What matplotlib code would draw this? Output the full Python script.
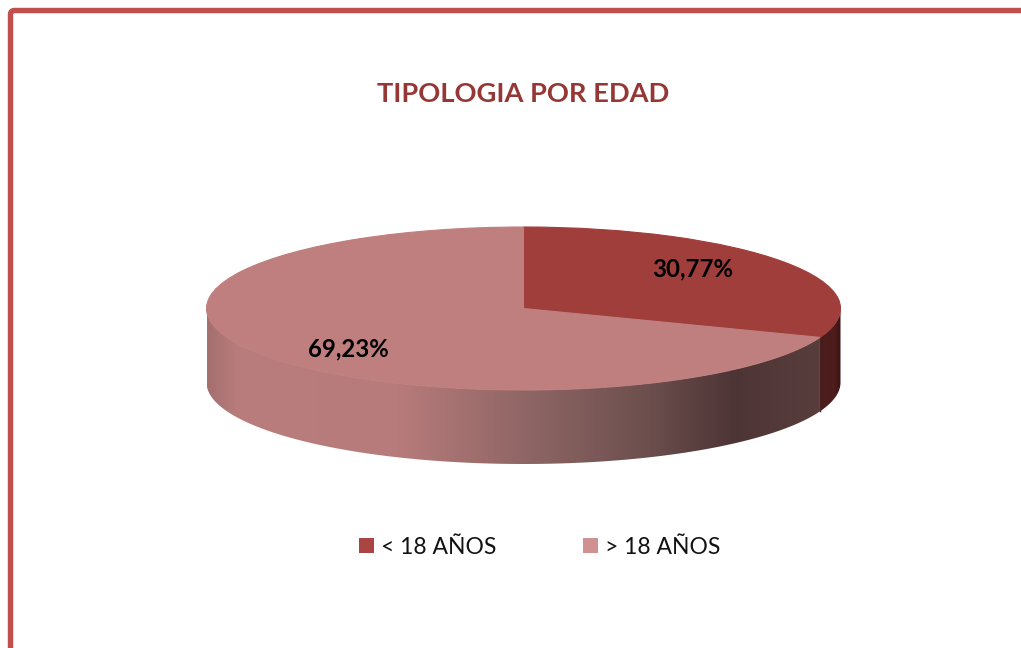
import numpy as np
import matplotlib
matplotlib.use("Agg")
import matplotlib.pyplot as plt
from matplotlib.patches import Patch, PathPatch, FancyBboxPatch
from matplotlib.path import Path
from matplotlib.colors import LinearSegmentedColormap

title = "TIPOLOGIA POR EDAD"
categories = ["< 18 AÑOS", "> 18 AÑOS"]
values = [30.77, 69.23]
value_labels = ["30,77%", "69,23%"]
top_colors = ["#A03E3C", "#BF7F7E"]
legend_colors = ["#A94543", "#CF9191"]

W, H = 1021, 648
plt.rcParams["font.family"] = ["Lato", "DejaVu Sans"]
fig = plt.figure(figsize=(W / 100, H / 100), dpi=100, facecolor="white")

base = fig.add_axes([0, 0, 1, 1])
base.set_xlim(0, W)
base.set_ylim(H, 0)
base.axis("off")

# frame
base.add_patch(FancyBboxPatch((10.5, 10.5), W + 60, H + 60,
                              boxstyle="round,pad=0,rounding_size=4",
                              fc="white", ec="#C0504D", lw=3.9, clip_on=True))

cx, cy, rx, ry, depth = 523.5, 308.5, 317, 81.5, 74

# side wall of the pie, shaded by x position
split = np.radians(values[0] / sum(values) * 360)
def wall(t0, t1):
    t = np.linspace(t0, t1, 240)
    x = cx + rx * np.sin(t)
    y = cy - ry * np.cos(t)
    pts = np.r_[np.c_[x, y], np.c_[x[::-1], y[::-1] + depth]]
    return Path(pts[:, :2].tolist() + [pts[0].tolist()], closed=True)

cmap_major = LinearSegmentedColormap.from_list("major", [
    (0.00, "#A56F6F"), (0.05, "#BA7D7D"), (0.30, "#B87B7B"), (0.50, "#8F6665"),
    (0.68, "#6F5150"), (0.83, "#4E3535"), (1.00, "#5A3F3E")])
cmap_minor = LinearSegmentedColormap.from_list("minor", [
    (0.0, "#4A1E1E"), (0.7, "#4E1C1C"), (1.0, "#3A1212")])
grad = np.linspace(0, 1, 512)[None, :]

im = base.imshow(grad, cmap=cmap_major, extent=(cx - rx, cx + rx, cy + ry + depth, cy - ry),
                 aspect="auto", zorder=2)
p = PathPatch(wall(split, np.pi * 1.5), transform=base.transData, fc="none", ec="none")
base.add_patch(p)
im.set_clip_path(p)

x_edge = cx + rx * np.sin(split)
y_edge = cy - ry * np.cos(split)
im2 = base.imshow(grad, cmap=cmap_minor, extent=(x_edge, cx + rx, cy + ry + depth, cy - ry),
                  aspect="auto", zorder=2)
p2 = PathPatch(wall(np.pi / 2, split), transform=base.transData, fc="none", ec="none")
base.add_patch(p2)
im2.set_clip_path(p2)
base.plot([x_edge, x_edge], [y_edge, y_edge + depth], color="#4A1E1E", lw=1.0, zorder=3)
base.set_xlim(0, W)
base.set_ylim(H, 0)

# top face
ax = fig.add_axes([(cx - rx) / W, 1 - (cy + ry) / H, 2 * rx / W, 2 * ry / H])
wedges, _ = ax.pie(values, colors=top_colors, startangle=90, counterclock=False, radius=1,
                   wedgeprops=dict(linewidth=0.8))
for w, c in zip(wedges, top_colors):
    w.set_edgecolor(c)
    w.set_clip_on(False)
ax.set_aspect("auto")
ax.set_xlim(-1, 1)
ax.set_ylim(-1, 1)
ax.patch.set_alpha(0)

def ftext(x, y, s, **kw):
    fig.text(x / W, 1 - y / H, s, ha="center", va="center", **kw)

ftext(523.5, 94.5, title, fontsize=19.6, fontweight="bold", color="#953735")
ftext(692.5, 268.5, value_labels[0], fontsize=17.3, fontweight="bold", color="black")
ftext(348.5, 348.5, value_labels[1], fontsize=17.3, fontweight="bold", color="black")

handles = [Patch(fc=c, ec="none", label=l) for c, l in zip(legend_colors, categories)]
fig.legend(handles=handles, ncol=2, frameon=False, fontsize=16.5,
           loc="center", bbox_to_anchor=(539.5 / W, 1 - 547 / H),
           handlelength=0.655, handleheight=0.655, handletextpad=0.3,
           columnspacing=3.8, labelcolor="#111111")

fig.savefig("out.png", dpi=100, facecolor="white")
